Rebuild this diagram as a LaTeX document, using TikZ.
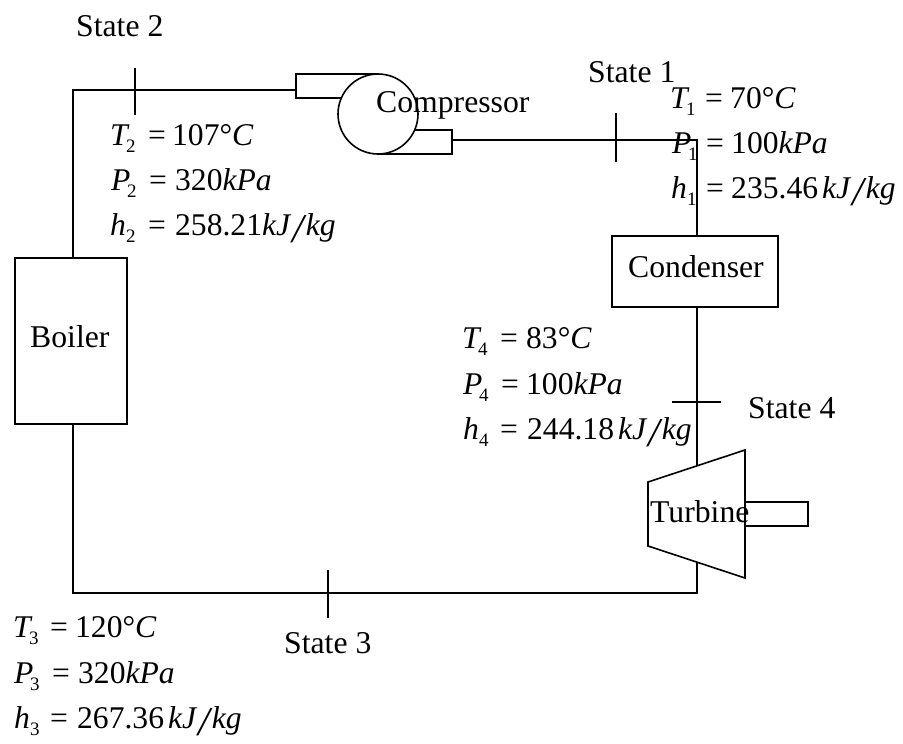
\documentclass[tikz,border=0pt]{standalone}
\usepackage{fontspec}
\setmainfont{Liberation Serif}
% variable, subscript, offset of "=", offset of the value
\newcommand{\qtyl}[4]{\makebox[#3pt][l]{\makebox[16pt][l]{\textit{#1}}\raisebox{-7.5pt}{\fontsize{19}{19}\selectfont #2}}\makebox[\dimexpr#4pt-#3pt\relax][l]{=}}
\newcommand{\perkg}[1]{\hspace{#1pt}\textit{kJ}\hspace{1pt}\raisebox{-7pt}{\fontsize{41}{41}\selectfont\textit{/}}\hspace{-1pt}\textit{kg}}
\tikzset{
  line/.style={draw=black,line width=1.6pt},
  lbl/.style={anchor=base west,inner sep=0pt,font=\fontsize{31.7}{34}\selectfont},
  eq/.style={anchor=base west,inner sep=0pt,font=\fontsize{31.6}{34}\selectfont}
}
\begin{document}
\begin{tikzpicture}[x=1pt,y=-1pt]
\useasboundingbox (0,0) rectangle (903,744);
% connectors
\coordinate (cl) at (73,90);
\coordinate (c2) at (73,258);
\coordinate (c3) at (73,424);
\coordinate (c4) at (73,593);
\coordinate (c5) at (697,593);
\coordinate (c6) at (697,562);
\coordinate (c7) at (697,140);
\coordinate (c8) at (697,236);
\coordinate (c9) at (697,307);
\coordinate (c10) at (697,465);
\coordinate (c11) at (296,90);
\coordinate (c12) at (452,140);
\draw[line] (c11) -- (cl) -- (c2);
\draw[line] (c3) -- (c4) -- (c5) -- (c6);
\draw[line] (c12) -- (c7) -- (c8);
\draw[line] (c9) -- (c10);
% ticks
\coordinate (t2a) at (135,68); \coordinate (t2b) at (135,115);
\coordinate (t1a) at (616,113); \coordinate (t1b) at (616,162);
\coordinate (t4a) at (672,402); \coordinate (t4b) at (721,402);
\coordinate (t3a) at (328,570); \coordinate (t3b) at (328,618);
\draw[line] (t2a) -- (t2b);
\draw[line] (t1a) -- (t1b);
\draw[line] (t4a) -- (t4b);
\draw[line] (t3a) -- (t3b);
% equipment
\draw[line] (378,74) -- (296,74) -- (296,98) -- (378,98);
\draw[line] (378,130) -- (452,130) -- (452,154) -- (378,154);
\draw[line,fill=white] (378,114) circle (40);
\draw[line] (745,502) -- (808,502) -- (808,526) -- (745,526);
\draw[line,fill=white] (648,482) -- (745,450) -- (745,578) -- (648,546) -- cycle;
\draw[line] (15,258) rectangle (127,424);
\draw[line] (612,236) rectangle (778,307);
% labels
\node[lbl] (s2) at (76,36) {State 2};
\node[lbl] (s1) at (588,82) {State 1};
\node[lbl] (s4) at (748,418) {State 4};
\node[lbl] (s3) at (284,653) {State 3};
\node[lbl] (comp) at (376,112) {Compressor};
\node[lbl] (cond) at (628,277) {Condenser};
\node[lbl] (boil) at (30,347) {Boiler};
\node[lbl] (turb) at (650,522) {Turbine};
% equations
\node[eq] (e1a) at (670,108) {\qtyl{T}{1}{35}{60}70°\textit{C}};
\node[eq] (e1b) at (672,153) {\qtyl{P}{1}{34}{59}100\textit{kPa}};
\node[eq] (e1c) at (671,198) {\qtyl{h}{1}{35}{60}235.46\perkg{4}};
\node[eq] (e2a) at (110,145) {\qtyl{T}{2}{38}{62}107°\textit{C}};
\node[eq] (e2b) at (111,190) {\qtyl{P}{2}{38}{64}320\textit{kPa}};
\node[eq] (e2c) at (110,235) {\qtyl{h}{2}{38}{65}258.21\perkg{0}};
\node[eq] (e4a) at (462,348) {\qtyl{T}{4}{38}{64}83°\textit{C}};
\node[eq] (e4b) at (463,394) {\qtyl{P}{4}{38}{63}100\textit{kPa}};
\node[eq] (e4c) at (463,439) {\qtyl{h}{4}{37}{64}244.18\perkg{4}};
\node[eq] (e3a) at (13,637) {\qtyl{T}{3}{37}{62}120°\textit{C}};
\node[eq] (e3b) at (14,683) {\qtyl{P}{3}{38}{64}320\textit{kPa}};
\node[eq] (e3c) at (14,728) {\qtyl{h}{3}{36}{63}267.36\perkg{4}};
\end{tikzpicture}
\end{document}
